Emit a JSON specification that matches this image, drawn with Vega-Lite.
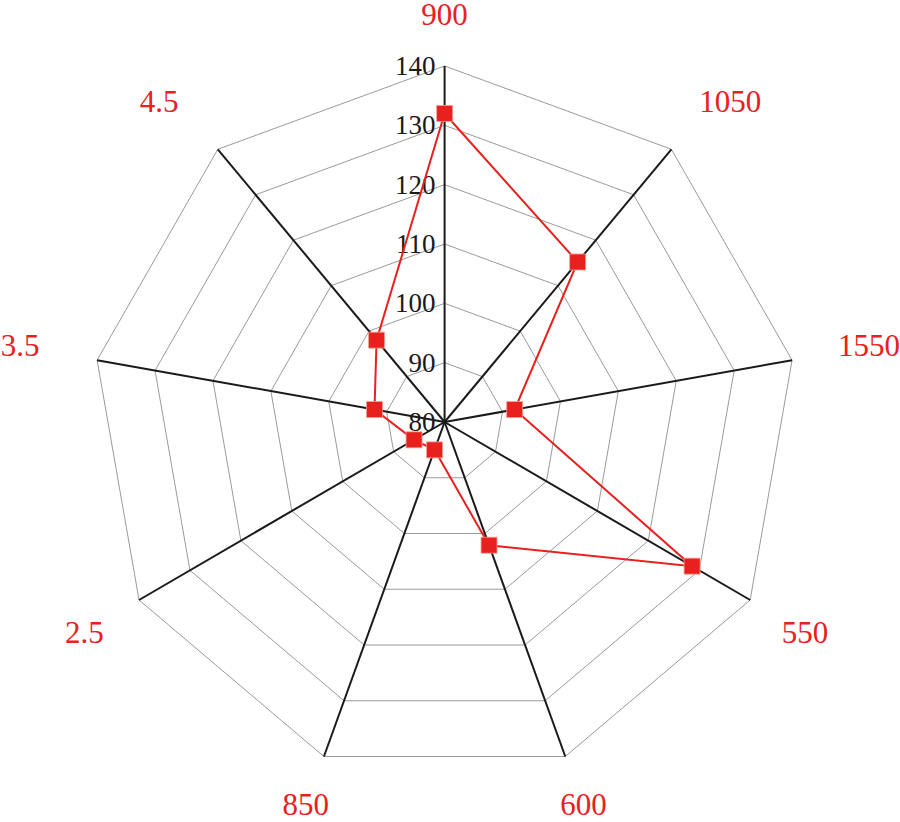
{
  "$schema": "https://vega.github.io/schema/vega-lite/v6.json",
  "width": 900,
  "height": 822,
  "padding": 0,
  "autosize": {"type": "fit", "contains": "padding"},
  "background": "white",
  "view": {"stroke": null},
  "config": {"font": "Liberation Serif"},
  "datasets": {
    "radar": [
      {"cat": "900", "value": 132.0},
      {"cat": "1050", "value": 115.2},
      {"cat": "1550", "value": 92.1},
      {"cat": "550", "value": 128.6},
      {"cat": "600", "value": 102.1},
      {"cat": "850", "value": 85.0},
      {"cat": "2.5", "value": 86.0},
      {"cat": "3.5", "value": 92.1},
      {"cat": "4.5", "value": 98.0}
    ],
    "rings": [
      {"level": 90, "cats": ["900", "1050", "1550", "550", "600", "850", "2.5", "3.5", "4.5"]},
      {"level": 100, "cats": ["900", "1050", "1550", "550", "600", "850", "2.5", "3.5", "4.5"]},
      {"level": 110, "cats": ["900", "1050", "1550", "550", "600", "850", "2.5", "3.5", "4.5"]},
      {"level": 120, "cats": ["900", "1050", "1550", "550", "600", "850", "2.5", "3.5", "4.5"]},
      {"level": 130, "cats": ["900", "1050", "1550", "550", "600", "850", "2.5", "3.5", "4.5"]},
      {"level": 140, "cats": ["900", "1050", "1550", "550", "600", "850", "2.5", "3.5", "4.5"]}
    ],
    "ticks": [
      {"level": 80}, {"level": 90}, {"level": 100}, {"level": 110},
      {"level": 120}, {"level": 130}, {"level": 140}
    ]
  },
  "layer": [
    {
      "data": {"name": "rings"},
      "transform": [
        {"flatten": ["cats"], "as": ["cat"]},
        {"window": [{"op": "row_number", "as": "idx"}], "groupby": ["level"]},
        {"calculate": "(datum.idx - 1) * 2 * PI / 9", "as": "ang"},
        {"calculate": "(datum.level - 80) / 60", "as": "r"},
        {"calculate": "datum.r * sin(datum.ang)", "as": "px"},
        {"calculate": "datum.r * cos(datum.ang)", "as": "py"}
      ],
      "mark": {"type": "line", "interpolate": "linear-closed", "color": "#9a9a9a", "strokeWidth": 1},
      "encoding": {
        "x": {"field": "px", "type": "quantitative", "scale": {"domain": [-1.2374, 1.2907], "nice": false, "zero": false}, "axis": null},
        "y": {"field": "py", "type": "quantitative", "scale": {"domain": [-1.1236, 1.1854], "nice": false, "zero": false}, "axis": null},
        "detail": {"field": "level", "type": "nominal"},
        "order": {"field": "idx", "type": "quantitative"}
      }
    },
    {
      "data": {"name": "radar"},
      "transform": [
        {"window": [{"op": "row_number", "as": "idx"}]},
        {"calculate": "(datum.idx - 1) * 2 * PI / 9", "as": "ang"},
        {"calculate": "sin(datum.ang)", "as": "ox"},
        {"calculate": "cos(datum.ang)", "as": "oy"},
        {"calculate": "0", "as": "cx"}
      ],
      "mark": {"type": "rule", "color": "#1a1a1a", "strokeWidth": 2},
      "encoding": {
        "x": {"field": "cx", "type": "quantitative", "axis": null},
        "y": {"field": "cx", "type": "quantitative", "axis": null},
        "x2": {"field": "ox"},
        "y2": {"field": "oy"}
      }
    },
    {
      "data": {"name": "ticks"},
      "transform": [
        {"calculate": "(datum.level - 80) / 60", "as": "r"},
        {"calculate": "0", "as": "cx"}
      ],
      "mark": {"type": "text", "align": "right", "baseline": "middle", "dx": -9, "dy": 1, "fontSize": 27, "color": "#1a1a1a", "font": "Liberation Serif"},
      "encoding": {
        "x": {"field": "cx", "type": "quantitative", "axis": null},
        "y": {"field": "r", "type": "quantitative", "axis": null},
        "text": {"field": "level", "type": "quantitative"}
      }
    },
    {
      "data": {"name": "radar"},
      "transform": [
        {"window": [{"op": "row_number", "as": "idx"}]},
        {"calculate": "(datum.idx - 1) * 2 * PI / 9", "as": "ang"},
        {"calculate": "(datum.value - 80) / 60", "as": "r"},
        {"calculate": "datum.r * sin(datum.ang)", "as": "px"},
        {"calculate": "datum.r * cos(datum.ang)", "as": "py"}
      ],
      "mark": {"type": "line", "interpolate": "linear-closed", "color": "#e8201e", "strokeWidth": 2},
      "encoding": {
        "x": {"field": "px", "type": "quantitative", "axis": null},
        "y": {"field": "py", "type": "quantitative", "axis": null},
        "order": {"field": "idx", "type": "quantitative"}
      }
    },
    {
      "data": {"name": "radar"},
      "transform": [
        {"window": [{"op": "row_number", "as": "idx"}]},
        {"calculate": "(datum.idx - 1) * 2 * PI / 9", "as": "ang"},
        {"calculate": "(datum.value - 80) / 60", "as": "r"},
        {"calculate": "datum.r * sin(datum.ang)", "as": "px"},
        {"calculate": "datum.r * cos(datum.ang)", "as": "py"}
      ],
      "mark": {"type": "point", "shape": "square", "filled": true, "size": 256, "color": "#e8201e", "opacity": 1, "stroke": "#f7a090", "strokeWidth": 0.8},
      "encoding": {
        "x": {"field": "px", "type": "quantitative", "axis": null},
        "y": {"field": "py", "type": "quantitative", "axis": null}
      }
    },
    {
      "data": {"name": "radar"},
      "transform": [
        {"window": [{"op": "row_number", "as": "idx"}]},
        {"calculate": "(datum.idx - 1) * 2 * PI / 9", "as": "ang"},
        {"calculate": "1.2107 * sin(datum.ang) + 0.0632 * sin(datum.ang) * cos(datum.ang)", "as": "lx"},
        {"calculate": "1.1404 * cos(datum.ang) + 0.070 * sin(datum.ang) * sin(datum.ang) * cos(datum.ang)", "as": "ly"}
      ],
      "mark": {"type": "text", "align": "center", "baseline": "middle", "fontSize": 31, "color": "#e8201e", "font": "Liberation Serif"},
      "encoding": {
        "x": {"field": "lx", "type": "quantitative", "axis": null},
        "y": {"field": "ly", "type": "quantitative", "axis": null},
        "text": {"field": "cat", "type": "nominal"}
      }
    }
  ]
}
